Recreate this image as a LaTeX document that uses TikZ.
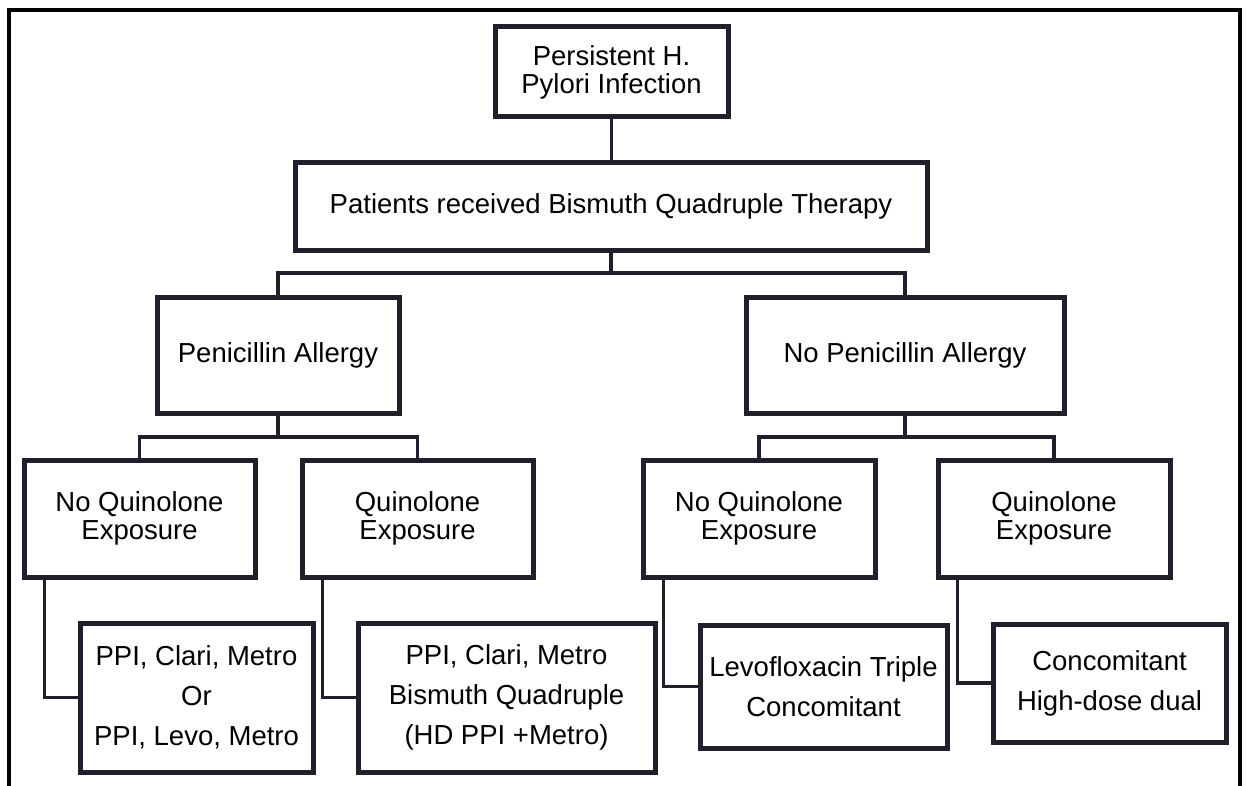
\documentclass[tikz,border=0pt]{standalone}
\usepackage{fontspec}
\setmainfont{Liberation Sans}
\definecolor{ln}{RGB}{34,30,44}
\begin{document}
\begin{tikzpicture}[x=1pt,y=-1pt,
  box/.style={draw=ln,line width=5pt,inner sep=2pt,align=center,text=black,
    font=\fontsize{27.5}{28}\selectfont},
  tallbox/.style={box,font=\fontsize{27.5}{40}\selectfont},
  conn/.style={draw=ln,line width=3.3pt},
  frameline/.style={draw=black,line width=3.5pt}]
\useasboundingbox (0,0) rectangle (1246,786);
\draw[frameline] (9,786) -- (9,10) -- (1240,10) -- (1240,786);
% level 1
\node[box,minimum width=233pt,minimum height=90pt] (top) at (611.5,72) {Persistent H.\\Pylori Infection};
\node[box,minimum width=632pt,minimum height=87pt] (b2) at (611,206.5) {Patients received Bismuth Quadruple Therapy};
% level 2
\node[box,minimum width=242pt,minimum height=116pt] (pen) at (278,355) {Penicillin Allergy};
\node[box,minimum width=318pt,minimum height=116pt] (nopen) at (905,355) {No Penicillin Allergy};
% level 3
\node[box,minimum width=231pt,minimum height=117pt] (nq1) at (139.5,518.5) {No Quinolone\\Exposure};
\node[box,minimum width=231pt,minimum height=117pt] (q1) at (417.5,518.5) {Quinolone\\Exposure};
\node[box,minimum width=232pt,minimum height=117pt] (nq2) at (759,518.5) {No Quinolone\\Exposure};
\node[box,minimum width=232pt,minimum height=117pt] (q2) at (1054,518.5) {Quinolone\\Exposure};
% level 4
\node[tallbox,minimum width=233pt,minimum height=149pt] (r1) at (196.5,697.5) {PPI, Clari, Metro\\Or\\PPI, Levo, Metro};
\node[tallbox,minimum width=297pt,minimum height=149pt] (r2) at (506.5,697.5) {PPI, Clari, Metro\\Bismuth Quadruple\\(HD PPI +Metro)};
\node[tallbox,minimum width=247pt,minimum height=123pt] (r3) at (823.5,686.5) {Levofloxacin Triple\\Concomitant};
\node[tallbox,minimum width=233pt,minimum height=118pt] (r4) at (1109.5,683) {Concomitant\\High-dose dual};
% junctions
\coordinate (j1) at (611,273);
\coordinate (j2) at (278,437);
\coordinate (j3) at (905,437);
% connectors
\draw[conn] (top.south) -- (b2.north -| top.south);
\draw[conn] (b2.south -| j1) -- (j1);
\draw[conn] (pen.north) |- (j1) -| (nopen.north);
\draw[conn] (pen.south) -- (j2);
\draw[conn] (nq1.north) |- (j2) -| (q1.north);
\draw[conn] (nopen.south) -- (j3);
\draw[conn] (nq2.north) |- (j3) -| (q2.north);
\draw[conn] ([xshift=23pt]nq1.south west) |- (r1.west);
\draw[conn] ([xshift=23pt]q1.south west) |- (r2.west);
\draw[conn] ([xshift=23pt]nq2.south west) |- (r3.west);
\draw[conn] ([xshift=22pt]q2.south west) |- (r4.west);
\end{tikzpicture}
\end{document}
